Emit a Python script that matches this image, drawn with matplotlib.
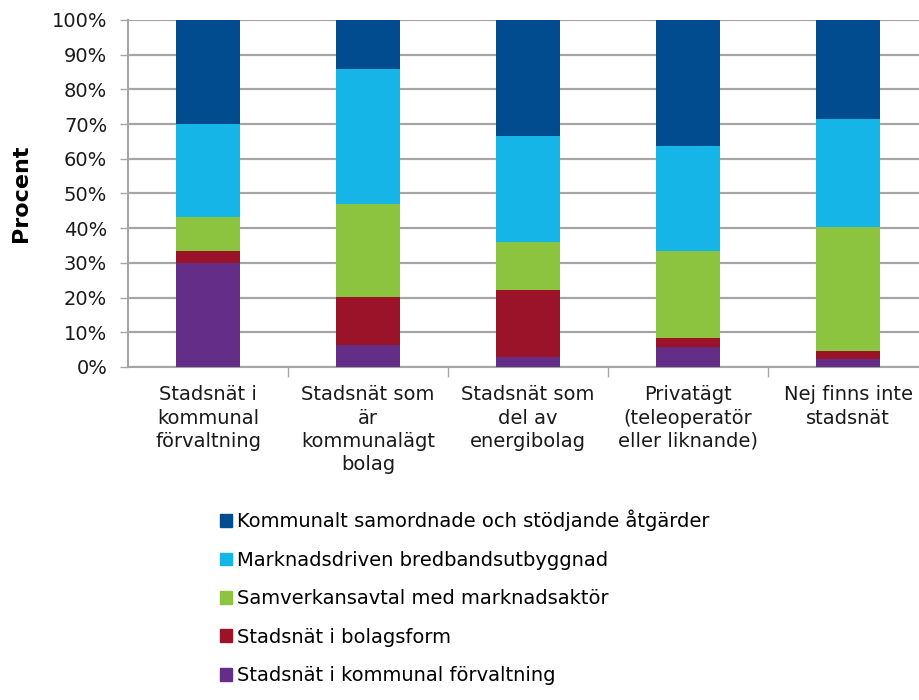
import numpy as np
import matplotlib
matplotlib.use("Agg")
import matplotlib.pyplot as plt
from matplotlib.patches import Patch

# Categories and stacked shares (percent), bottom to top
categories = [
    "Stadsnät i\nkommunal\nförvaltning",
    "Stadsnät som\när\nkommunalägt\nbolag",
    "Stadsnät som\ndel av\nenergibolag",
    "Privatägt\n(teleoperatör\neller liknande)",
    "Nej finns inte\nstadsnät",
]
series_names = [
    "Stadsnät i kommunal förvaltning",
    "Stadsnät i bolagsform",
    "Samverkansavtal med marknadsaktör",
    "Marknadsdriven bredbandsutbyggnad",
    "Kommunalt samordnade och stödjande åtgärder",
]
kommunal_forvaltning = [30.0, 6.2, 2.8, 5.7, 2.4]
bolagsform = [3.3, 14.1, 19.4, 2.7, 2.2]
samverkansavtal = [10.0, 26.6, 13.9, 24.9, 35.8]
marknadsdriven = [26.7, 39.0, 30.6, 30.5, 31.1]
samordnade = [30.0, 14.1, 33.3, 36.2, 28.5]
colors = ["#642D87", "#9B1329", "#8DC43F", "#15B5E8", "#004C8F"]

series = [kommunal_forvaltning, bolagsform, samverkansavtal, marknadsdriven, samordnade]
txt_color = "#1a1a1a"

fig = plt.figure(figsize=(9.19, 7.0), dpi=100)
ax = fig.add_axes([128 / 919, 1 - 367 / 700, 1 - 128 / 919, 347 / 700])

x = np.arange(len(categories))
bottom = np.zeros(len(categories))
for name, vals, col in zip(series_names, series, colors):
    vals = np.array(vals)
    ax.bar(x, vals, bottom=bottom, width=0.4, color=col, label=name, zorder=3)
    bottom += vals

ax.set_ylim(0, 100)
ax.set_xlim(-0.5, -0.5 + 791 / 160)
ax.set_yticks(np.arange(0, 101, 10))
ax.set_yticklabels([f"{v}%" for v in range(0, 101, 10)], fontsize=14, color=txt_color)
ax.yaxis.grid(True, color="#a6a6a6", linewidth=1.6, zorder=0)
ax.tick_params(axis="y", length=6, width=1, color="#a6a6a6", pad=9)

# x ticks at category boundaries, labels at centers
ax.set_xticks(np.arange(0.5, len(categories) - 0.5, 1))
ax.set_xticklabels([])
ax.tick_params(axis="x", length=7, width=1, color="#a6a6a6")
for xi, lab in zip(x, categories):
    ax.text(xi, -5.3, lab, ha="center", va="top", fontsize=14,
            color=txt_color, linespacing=1.28, transform=ax.transData)

for side in ["top", "right"]:
    ax.spines[side].set_visible(False)
ax.spines["left"].set_color("#a6a6a6")
ax.spines["left"].set_linewidth(1.5)
ax.spines["bottom"].set_color("#a6a6a6")
ax.spines["bottom"].set_linewidth(1.5)

ax.set_ylabel("Procent", fontsize=16, fontweight="bold", labelpad=15)

handles = [Patch(color=c) for c in colors][::-1]
fig.legend(handles, series_names[::-1], loc="upper left",
           bbox_to_anchor=(212 / 919, 1 - 502 / 700), frameon=False,
           fontsize=14, handlelength=0.62, handleheight=0.62,
           handletextpad=0.25, labelspacing=1.0, borderaxespad=0)

fig.savefig("out.png", dpi=100)
